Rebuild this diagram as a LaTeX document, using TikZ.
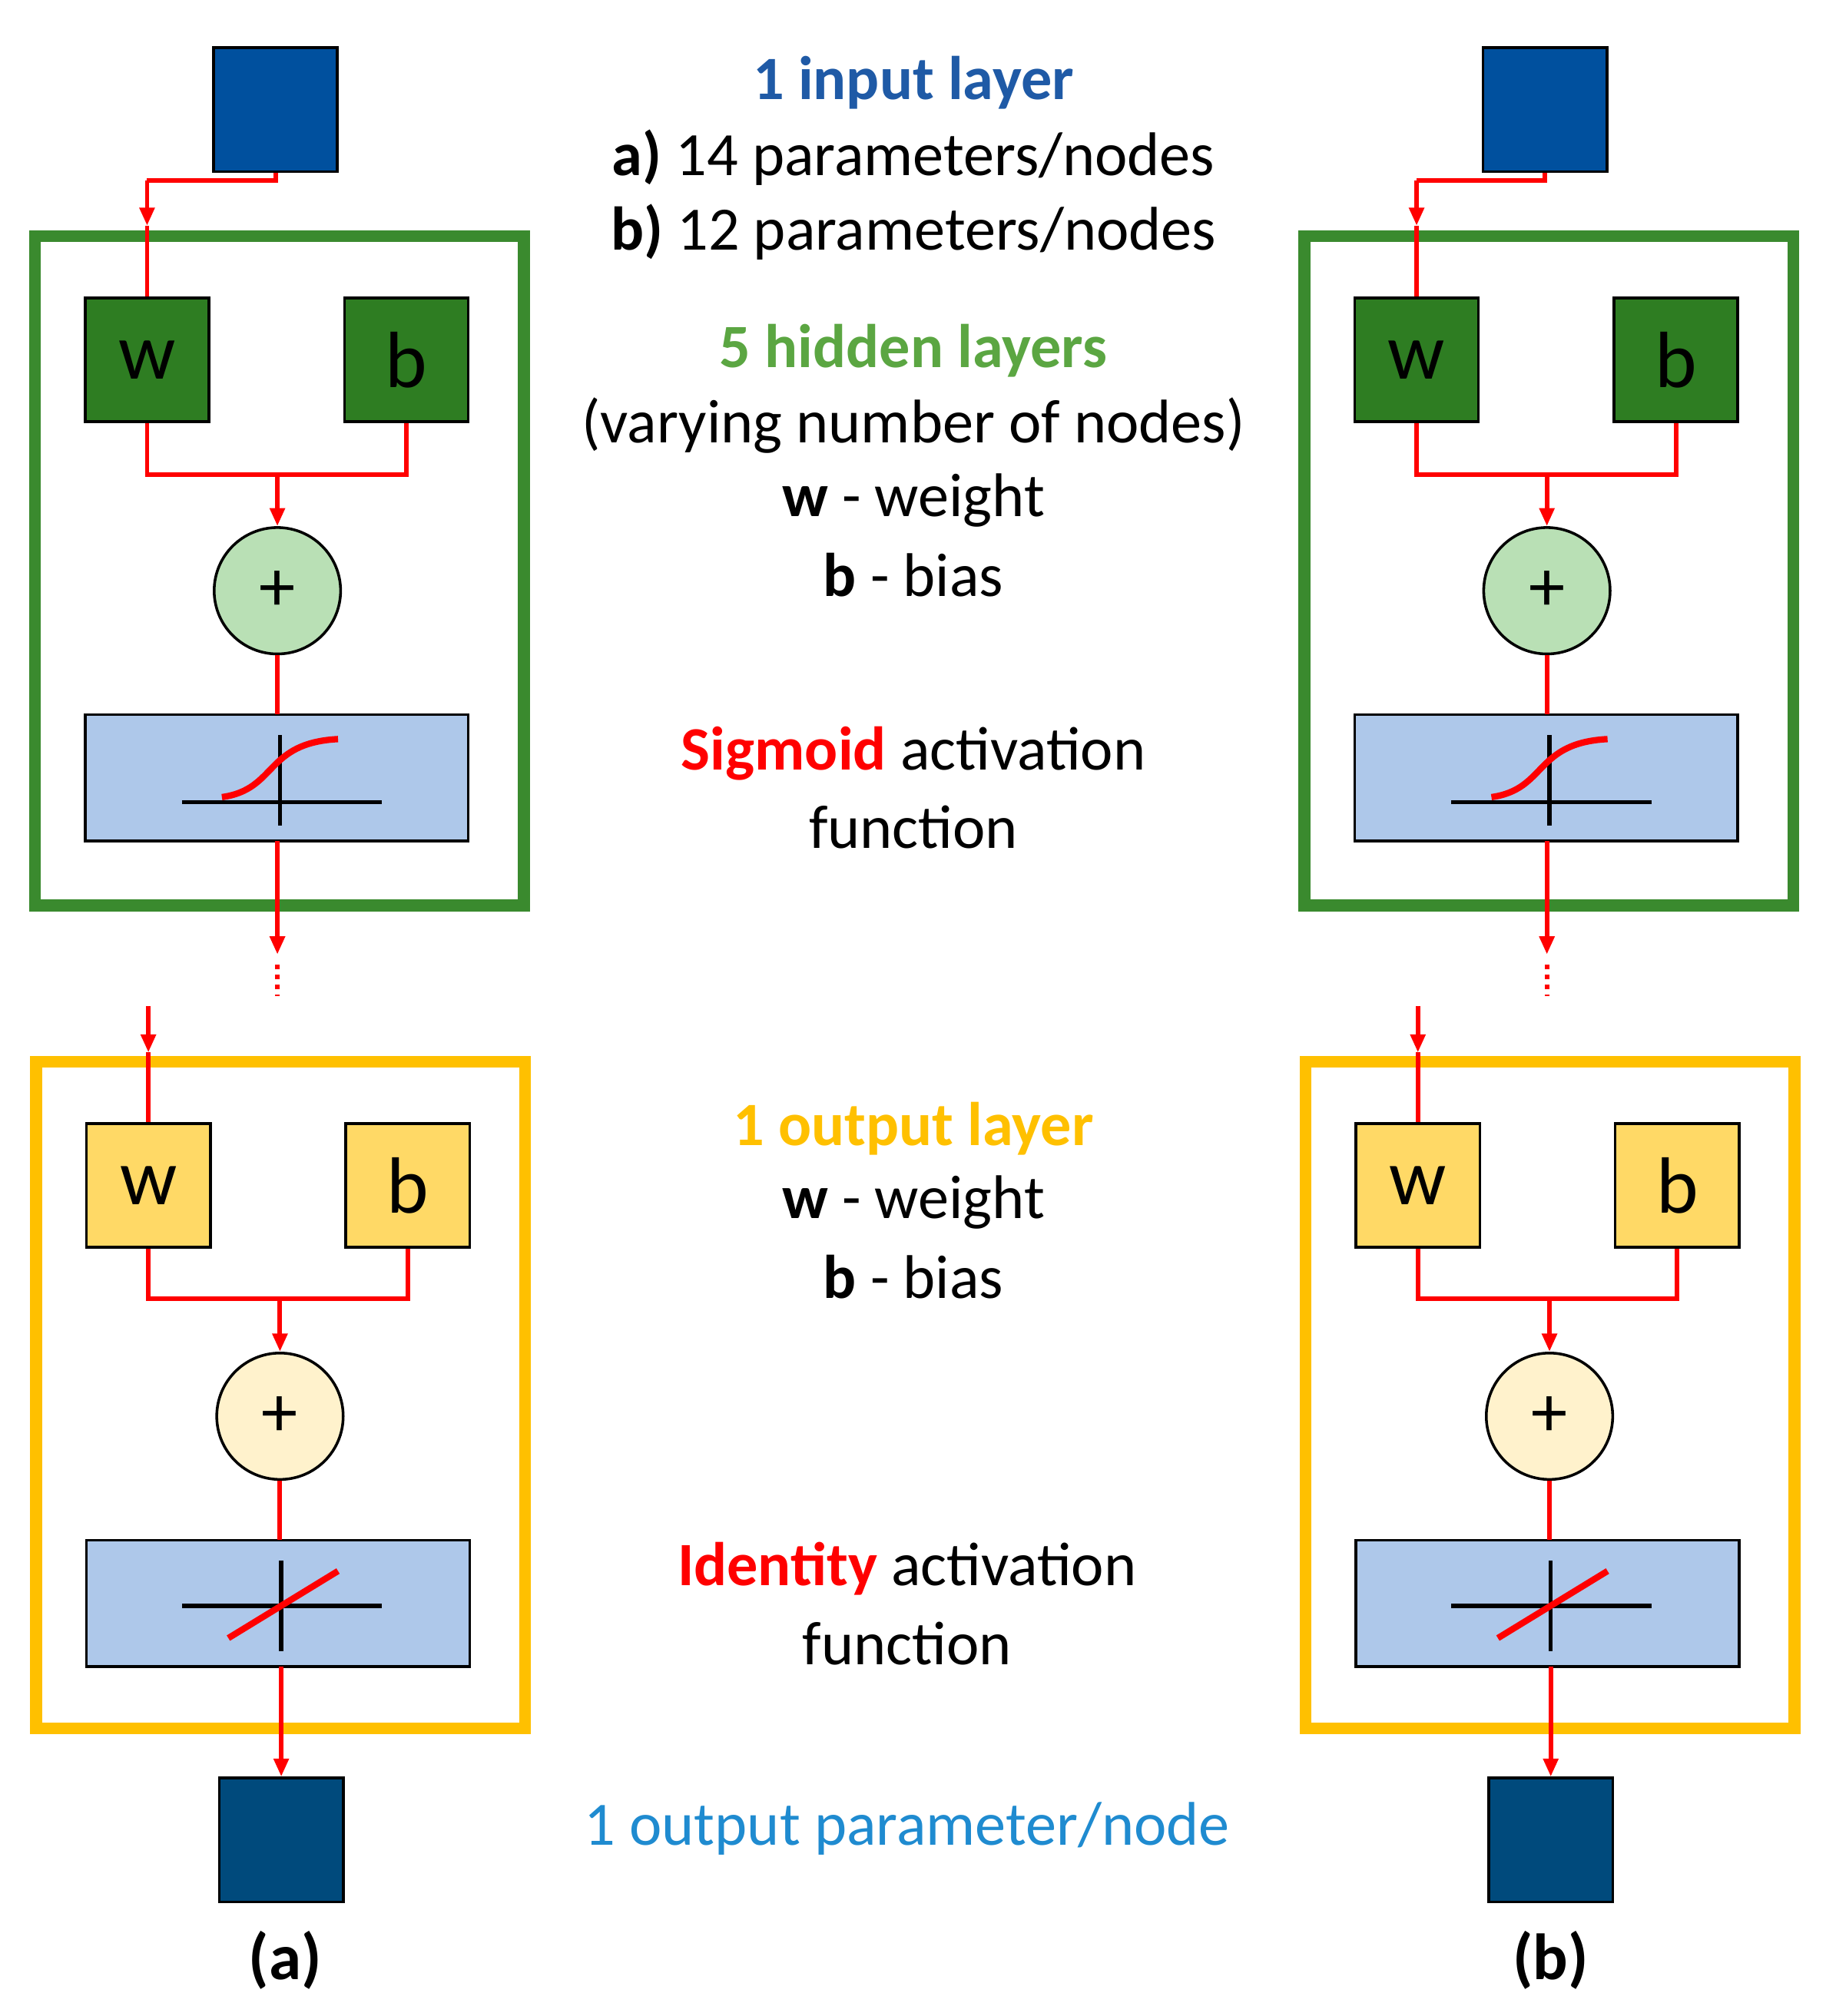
\documentclass[tikz,border=0pt]{standalone}
\usepackage{fontspec}
\setmainfont{Carlito}
\usetikzlibrary{arrows.meta}
\definecolor{inblue}{HTML}{00509E}
\definecolor{outblue}{HTML}{004A7C}
\definecolor{gframe}{HTML}{3A8A2E}
\definecolor{gbox}{HTML}{2E7D22}
\definecolor{gcirc}{HTML}{B9E0B5}
\definecolor{yframe}{HTML}{FFC000}
\definecolor{ybox}{HTML}{FFD966}
\definecolor{ycirc}{HTML}{FFF2CC}
\definecolor{act}{HTML}{AEC8EA}
\definecolor{tblue}{HTML}{1F5AA6}
\definecolor{tgreen}{HTML}{5BA642}
\definecolor{tlblue}{HTML}{1F8BD0}
\definecolor{tred}{HTML}{FF0000}
\begin{document}
\begin{tikzpicture}[x=0.05cm,y=-0.05cm,
  sq/.style={draw=black,line width=3pt,minimum size=4.8cm,inner sep=0pt,font=\fontsize{88}{96}\selectfont},
  circ/.style={circle,draw=black,line width=3pt,minimum size=4.9cm,inner sep=0pt,font=\fontsize{80}{90}\selectfont},
  actbox/.style={draw=black,line width=3pt,fill=act,minimum width=14.85cm,minimum height=4.9cm,inner sep=0pt},
  frame/.style={line width=13pt},
  wire/.style={draw=red,line width=5pt},
  arr/.style={wire,-{Triangle[length=20pt,width=16pt]}},
  ax/.style={line width=4.5pt,black},
  txt/.style={font=\fontsize{68}{80}\selectfont,inner sep=0pt},
]
\useasboundingbox (0,0) rectangle (1415,1563);
\foreach \o/\s in {0/a,984/b}{
\begin{scope}[xshift=\o*0.05cm]
 \node[sq,fill=inblue] (in\s) at (213.5,85) {};
 \draw[frame,gframe] (27,183) rectangle (406,702);
 \node[sq,fill=gbox] (w\s) at (114,279) {w};
 \node[sq,fill=gbox] (b\s) at (315,279) {b};
 \node[circ,fill=gcirc] (c\s) at (215,458) {+};
 \node[actbox] (s\s) at (214.5,603) {};
 \draw[ax] (141,622) -- (296,622);
 \draw[ax] (217,570) -- (217,640);
 \draw[red,line width=7pt] (172,618) .. controls (215,612) and (205,576) .. (262,573);
 \coordinate (j1\s) at (114,140);
 \coordinate (j2\s) at (114,175);
 \draw[wire] (in\s.south) |- (213.5,140) -- (114,140);
 \draw[arr] (j1\s) -- (j2\s);
 \draw[wire] (j2\s) -- (w\s.north);
 \draw[wire] (w\s.south) |- (315,368) -- (b\s.south);
 \draw[arr] (215,368) -- (c\s.north);
 \draw[wire] (c\s.south) -- (215,554);
 \draw[arr] (215,652) -- (215,740);
 \draw[red,line width=5pt,dash pattern=on 5pt off 6pt] (215,748) -- (215,772);
 % output block
 \draw[frame,yframe] (28,823) rectangle (407,1340);
 \node[sq,fill=ybox] (ow\s) at (115,919) {w};
 \node[sq,fill=ybox] (ob\s) at (316,919) {b};
 \node[circ,fill=ycirc] (oc\s) at (217,1098) {+};
 \node[actbox] (os\s) at (215.5,1243) {};
 \draw[ax] (141,1245) -- (296,1245);
 \draw[ax] (218,1210) -- (218,1280);
 \draw[red,line width=7pt] (177,1270) -- (262,1218);
 \coordinate (k1\s) at (115,780);
 \coordinate (k2\s) at (115,816);
 \draw[arr] (k1\s) -- (k2\s);
 \draw[wire] (k2\s) -- (ow\s.north);
 \draw[wire] (ow\s.south) |- (316,1007) -- (ob\s.south);
 \draw[arr] (217,1007) -- (oc\s.north);
 \draw[wire] (oc\s.south) -- (217,1194);
 \node[sq,fill=outblue] (out\s) at (218,1426.5) {};
 \draw[arr] (218,1292) -- (out\s.north);
\end{scope}}
\node[txt,font=\fontsize{72}{80}\selectfont\bfseries] (la) at (221,1520) {(a)};
\node[txt,font=\fontsize{72}{80}\selectfont\bfseries] (lb) at (1202,1520) {(b)};
\node[txt,text=tblue,font=\fontsize{68}{80}\selectfont\bfseries] (t1) at (708,64) {1 input layer};
\node[txt] (t2) at (708,122) {\textbf{a)} 14 parameters/nodes};
\node[txt] (t3) at (708,180) {\textbf{b)} 12 parameters/nodes};
\node[txt,text=tgreen,font=\fontsize{68}{80}\selectfont\bfseries] (t4) at (708,272) {5 hidden layers};
\node[txt] (t5) at (708,330) {(varying number of nodes)};
\node[txt] (t6) at (708,388) {\textbf{w} - weight};
\node[txt] (t7) at (708,446) {\textbf{b} - bias};
\node[txt] (t8) at (708,584) {\textbf{\textcolor{tred}{Sigmoid}} activation};
\node[txt] (t9) at (708,641) {function};
\node[txt,text=yframe,font=\fontsize{68}{80}\selectfont\bfseries] (t10) at (708,875) {1 output layer};
\node[txt] (t11) at (708,932) {\textbf{w} - weight};
\node[txt] (t12) at (708,990) {\textbf{b} - bias};
\node[txt] (t13) at (703,1216) {\textbf{\textcolor{tred}{Identity}} activation};
\node[txt] (t14) at (703,1274) {function};
\node[txt,text=tlblue] (t15) at (703,1418) {1 output parameter/node};
\end{tikzpicture}
\end{document}
